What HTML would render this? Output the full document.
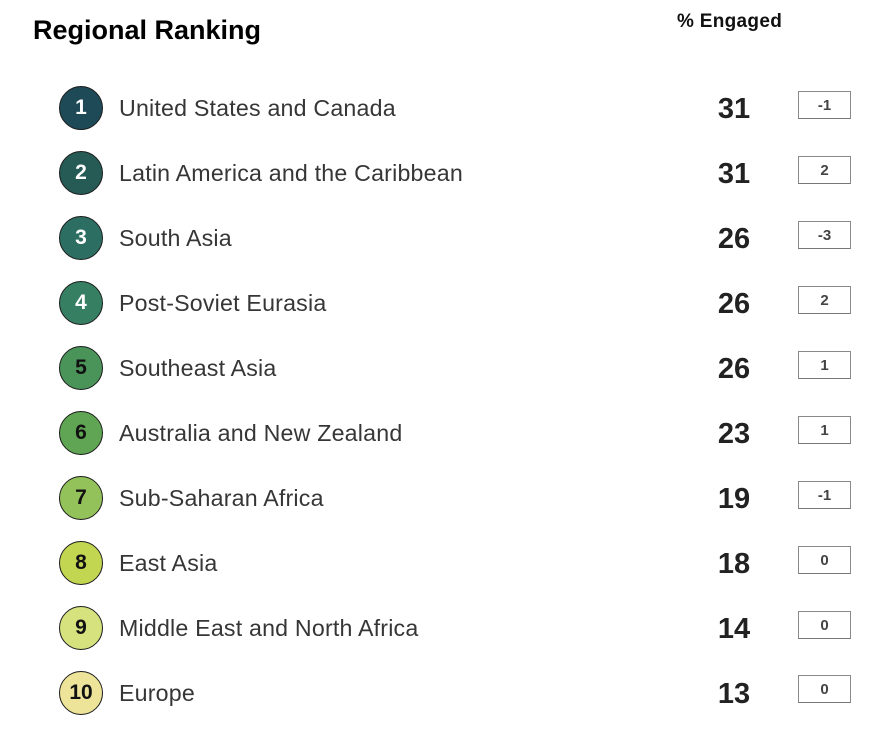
<!DOCTYPE html>
<html>
<head>
<meta charset="utf-8">
<style>
  html, body { margin:0; padding:0; background:#ffffff; }
  body { width:896px; height:736px; position:relative; overflow:hidden; font-family:"Liberation Sans", Arial, sans-serif; }
  .title { position:absolute; left:33px; top:15px; height:30px; line-height:30px; font-size:27px; font-weight:bold; color:#000; white-space:nowrap; }
  .hdr { position:absolute; left:677px; top:9px; height:26px; line-height:26px; font-size:19px; font-weight:bold; color:#111; white-space:nowrap; letter-spacing:0.3px; }
  .circ { position:absolute; left:59px; width:42px; height:42px; border:1px solid #1a1a1a; border-radius:50%; text-align:center; line-height:42px; font-size:21px; font-weight:bold; }
  .lbl { position:absolute; left:119px; height:30px; line-height:30px; font-size:23.2px; letter-spacing:0.2px; color:#363636; white-space:nowrap; }
  .num { position:absolute; left:704px; width:60px; height:30px; line-height:30px; text-align:center; font-size:29px; font-weight:bold; color:#222; }
  .box { position:absolute; left:798px; width:51px; height:26px; border:1px solid #8a8a8a; border-bottom-color:#777; text-align:center; line-height:28px; font-size:15px; font-weight:bold; color:#444; background:#fff; }
</style>
</head>
<body>
<div class="title">Regional Ranking</div>
<div class="hdr">% Engaged</div>

<div class="circ" style="top:86px;background:#1e4a57;color:#fff;">1</div>
<div class="lbl" style="top:93px;">United States and Canada</div>
<div class="num" style="top:94px;">31</div>
<div class="box" style="top:91px;">-1</div>

<div class="circ" style="top:151px;background:#255b54;color:#fff;">2</div>
<div class="lbl" style="top:158px;">Latin America and the Caribbean</div>
<div class="num" style="top:159px;">31</div>
<div class="box" style="top:156px;">2</div>

<div class="circ" style="top:216px;background:#2d6e62;color:#fff;">3</div>
<div class="lbl" style="top:223px;">South Asia</div>
<div class="num" style="top:224px;">26</div>
<div class="box" style="top:221px;">-3</div>

<div class="circ" style="top:281px;background:#377f63;color:#fff;">4</div>
<div class="lbl" style="top:288px;">Post-Soviet Eurasia</div>
<div class="num" style="top:289px;">26</div>
<div class="box" style="top:286px;">2</div>

<div class="circ" style="top:346px;background:#4a945a;color:#111;">5</div>
<div class="lbl" style="top:353px;">Southeast Asia</div>
<div class="num" style="top:354px;">26</div>
<div class="box" style="top:351px;">1</div>

<div class="circ" style="top:411px;background:#5fa553;color:#111;">6</div>
<div class="lbl" style="top:418px;">Australia and New Zealand</div>
<div class="num" style="top:419px;">23</div>
<div class="box" style="top:416px;">1</div>

<div class="circ" style="top:476px;background:#93c25a;color:#111;">7</div>
<div class="lbl" style="top:483px;">Sub-Saharan Africa</div>
<div class="num" style="top:484px;">19</div>
<div class="box" style="top:481px;">-1</div>

<div class="circ" style="top:541px;background:#c3d652;color:#111;">8</div>
<div class="lbl" style="top:548px;">East Asia</div>
<div class="num" style="top:549px;">18</div>
<div class="box" style="top:546px;">0</div>

<div class="circ" style="top:606px;background:#d6e27e;color:#111;">9</div>
<div class="lbl" style="top:613px;">Middle East and North Africa</div>
<div class="num" style="top:614px;">14</div>
<div class="box" style="top:611px;">0</div>

<div class="circ" style="top:671px;background:#ede49a;color:#111;">10</div>
<div class="lbl" style="top:678px;">Europe</div>
<div class="num" style="top:679px;">13</div>
<div class="box" style="top:675px;">0</div>
</body>
</html>
